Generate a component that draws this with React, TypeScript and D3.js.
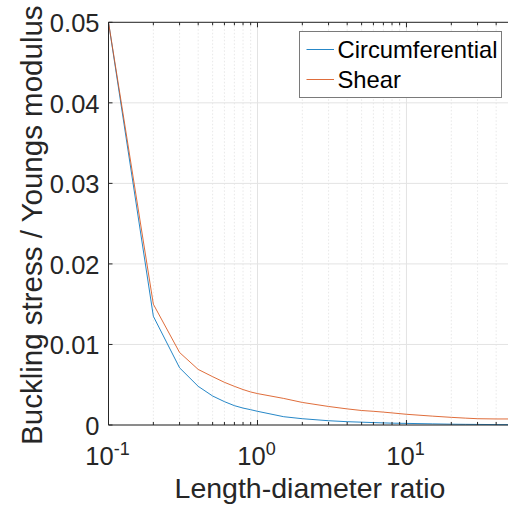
import React from "react";
import * as d3 from "d3";

const xValues = [0.1, 0.2, 0.3, 0.4, 0.5, 0.6, 0.7, 0.8, 0.9, 1, 1.5, 2, 3, 4, 5, 6, 7, 8, 10, 15, 20, 25, 30, 40, 50];
const circumferential = [0.05, 0.0135, 0.0071, 0.0048, 0.0036, 0.0029, 0.0024, 0.0021, 0.0019, 0.0017, 0.00103, 0.00078, 0.00053, 0.00041, 0.00035, 0.0003, 0.00026, 0.00023, 0.0002, 0.00014, 0.0001, 0.00008, 0.00007, 0.00005, 0.00004];
const shear = [0.05, 0.015, 0.009, 0.0069, 0.006, 0.0053, 0.0048, 0.0044, 0.0041, 0.0039, 0.0033, 0.0028, 0.0023, 0.002, 0.0018, 0.0017, 0.0016, 0.0015, 0.00133, 0.0011, 0.00095, 0.00085, 0.00078, 0.00075, 0.00075];
const seriesNames = ["Circumferential", "Shear"];
const seriesColors = ["#0072BD", "#D95319"];
const yTicks = [0, 0.01, 0.02, 0.03, 0.04, 0.05];
const yTickLabels = ["0", "0.01", "0.02", "0.03", "0.04", "0.05"];
const xMajorTicks = [0.1, 1, 10];
const xMajorExp = ["-1", "0", "1"];

const W = 508;
const H = 509;
const left = 108.5;
const right = 510.6;
const top = 22.3;
const bottom = 425;
const axisColor = "#262626";

export default function App() {
  const x = d3.scaleLog().domain([0.1, 50]).range([left, right]);
  const y = d3.scaleLinear().domain([0, 0.05]).range([bottom, top]);

  const minor: number[] = [];
  for (const dec of [0.1, 1, 10]) {
    for (let k = 2; k <= 9; k++) {
      const v = dec * k;
      if (v <= 50) minor.push(v);
    }
  }

  const series = [circumferential, shear];
  const line = d3
    .line<[number, number]>()
    .x((d) => x(d[0]))
    .y((d) => y(d[1]));

  const fs = 25.5;

  return (
    <div style={{ position: "fixed", left: 0, top: 0, width: W, height: H, background: "#fff" }}>
      <svg width={W} height={H} style={{ display: "block" }} fontFamily="'Liberation Sans', Arial, Helvetica, sans-serif">
        <rect x={0} y={0} width={W} height={H} fill="#fff" />
        {/* minor grid */}
        {minor.map((v) => (
          <line key={"mg" + v} x1={x(v)} x2={x(v)} y1={top} y2={bottom} stroke="#e2e2e2" strokeWidth={0.8} strokeDasharray="1.5,2" />
        ))}
        {/* major grid */}
        {xMajorTicks.map((v) => (
          <line key={"gx" + v} x1={x(v)} x2={x(v)} y1={top} y2={bottom} stroke="#e3e3e3" strokeWidth={1} />
        ))}
        {yTicks.map((v) => (
          <line key={"gy" + v} x1={left} x2={right} y1={y(v)} y2={y(v)} stroke="#e3e3e3" strokeWidth={1} />
        ))}
        {/* data */}
        {series.map((s, i) => (
          <path
            key={"s" + i}
            d={line(xValues.map((xv, j) => [xv, s[j]] as [number, number])) || ""}
            fill="none"
            stroke={seriesColors[i]}
            strokeOpacity={0.85}
            strokeWidth={1}
          />
        ))}
        {/* axes box */}
        <line x1={left} x2={right} y1={bottom} y2={bottom} stroke={axisColor} strokeWidth={1} />
        <line x1={left} x2={right} y1={top} y2={top} stroke={axisColor} strokeWidth={1} />
        <line x1={left} x2={left} y1={top} y2={bottom} stroke={axisColor} strokeWidth={1} />
        <line x1={right} x2={right} y1={top} y2={bottom} stroke={axisColor} strokeWidth={1} />
        {/* y ticks */}
        {yTicks.map((v, i) => (
          <g key={"yt" + v}>
            <line x1={left} x2={left + 4} y1={y(v)} y2={y(v)} stroke={axisColor} strokeWidth={1} />
            <text x={left - 9} y={y(v) + 10} textAnchor="end" fontSize={fs} fill={axisColor}>
              {yTickLabels[i]}
            </text>
          </g>
        ))}
        {/* x ticks */}
        {minor.map((v) => (
          <g key={"mt" + v}>
            <line x1={x(v)} x2={x(v)} y1={bottom} y2={bottom - 3} stroke={axisColor} strokeWidth={1} />
            <line x1={x(v)} x2={x(v)} y1={top} y2={top + 3} stroke={axisColor} strokeWidth={1} />
          </g>
        ))}
        {xMajorTicks.map((v, i) => (
          <g key={"xt" + v}>
            <line x1={x(v)} x2={x(v)} y1={bottom} y2={bottom - 5} stroke={axisColor} strokeWidth={1} />
            <line x1={x(v)} x2={x(v)} y1={top} y2={top + 5} stroke={axisColor} strokeWidth={1} />
            <text x={x(v) - 1} y={465} textAnchor="middle" fontSize={fs} fill={axisColor}>
              10
              <tspan fontSize={18} dy={-10}>
                {xMajorExp[i]}
              </tspan>
            </text>
          </g>
        ))}
        {/* axis labels */}
        <text x={310} y={498} textAnchor="middle" fontSize={28.5} fill={axisColor}>
          Length-diameter ratio
        </text>
        <text
          transform={`translate(41.5, ${(top + bottom) / 2 + 1.5}) rotate(-90)`}
          textAnchor="middle"
          fontSize={29.5}
          fill={axisColor}
        >
          Buckling stress / Youngs modulus
        </text>
        {/* legend */}
        <rect x={299.5} y={31.5} width={202} height={66} fill="#fff" stroke="#7a7a7a" strokeWidth={1} />
        {seriesNames.map((name, i) => (
          <g key={"lg" + i}>
            <line x1={306.5} x2={334} y1={49.5 + i * 30} y2={49.5 + i * 30} stroke={seriesColors[i]} strokeOpacity={0.85} strokeWidth={1} />
            <text x={337.5} y={49.5 + i * 30 + 8.5} fontSize={23.8} fill="#000">
              {name}
            </text>
          </g>
        ))}
      </svg>
    </div>
  );
}
